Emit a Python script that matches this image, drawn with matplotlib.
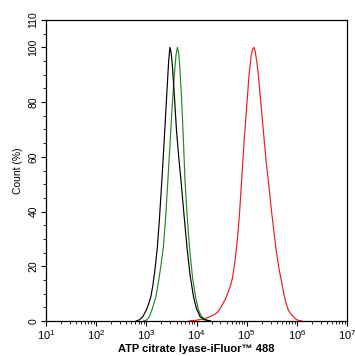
import matplotlib
matplotlib.use('Agg')
import matplotlib.pyplot as plt
from matplotlib.ticker import MultipleLocator, LogLocator, NullFormatter
import numpy as np

plt.rcParams['font.family'] = ['Liberation Sans', 'DejaVu Sans']
plt.rcParams['mathtext.fontset'] = 'custom'
plt.rcParams['mathtext.rm'] = 'Liberation Sans'
plt.rcParams['mathtext.it'] = 'Liberation Sans:italic'

# log10 fluorescence intensity and count (%)
black_log = [2.80, 2.86, 2.93, 3.00, 3.05, 3.09, 3.13, 3.17, 3.22, 3.26, 3.31, 3.35,
             3.39, 3.42, 3.445, 3.47, 3.495, 3.52, 3.56, 3.60, 3.645, 3.69, 3.75, 3.81,
             3.87, 3.94, 4.00, 4.07, 4.15, 4.27]
black_cnt = [0, 0.4, 1.6, 4, 6.5, 8.9, 13, 18.5, 27, 37, 51.5, 64,
             77, 87, 95, 100, 98, 93, 82, 70, 60, 51.5, 39, 27,
             17, 8.9, 4.5, 1.6, 0.5, 0]

green_log = [2.95, 3.01, 3.06, 3.12, 3.19, 3.235, 3.285, 3.34, 3.385, 3.43, 3.47, 3.51,
             3.55, 3.59, 3.62, 3.645, 3.67, 3.70, 3.735, 3.77, 3.815, 3.86, 3.92, 3.98,
             4.04, 4.10, 4.18, 4.28]
green_cnt = [0, 0.4, 1.6, 4.5, 8.9, 13.5, 19.5, 27, 38, 51.5, 64, 77,
             88, 97, 100, 98, 92, 82, 68, 51.5, 38, 27, 16, 8.9,
             4, 1.6, 0.5, 0]

red_log = [3.85, 4.00, 4.15, 4.27, 4.34, 4.40, 4.47, 4.53, 4.58, 4.63, 4.68, 4.72,
           4.76, 4.80, 4.83, 4.86, 4.90, 4.95, 5.00, 5.05, 5.09, 5.12, 5.146, 5.17,
           5.20, 5.23, 5.29, 5.35, 5.39, 5.43, 5.50, 5.58, 5.64, 5.70, 5.735, 5.77,
           5.83, 5.88, 5.93, 5.98, 6.02, 6.10]
red_cnt = [0, 0.3, 0.8, 1.6, 2.2, 2.9, 4.5, 6.5, 8.2, 10.5, 13, 16,
           21, 27, 33, 40, 51.5, 66, 78.3, 90.5, 97, 99.5, 100, 98.5,
           95, 90.5, 78.3, 66, 58, 51.5, 39.4, 27, 19.5, 14, 10.5, 7.5,
           4, 2.5, 1.6, 0.7, 0.3, 0]

xticks = [1e1, 1e2, 1e3, 1e4, 1e5, 1e6, 1e7]
yticks = [0, 20, 40, 60, 80, 100, 110]

fig = plt.figure(figsize=(3.55, 3.56), dpi=100)
ax = fig.add_axes([46 / 355, 35 / 356, 301 / 355, 301 / 356])

ax.plot(10 ** np.array(red_log), red_cnt, color='#ee1c1c', linewidth=0.85)
ax.plot(10 ** np.array(green_log), green_cnt, color='#1e8c1e', linewidth=0.85)
ax.plot(10 ** np.array(black_log), black_cnt, color='black', linewidth=0.85)

ax.set_xscale('log')
ax.set_xlim(10, 1e7)
ax.set_ylim(0, 110)

ax.set_xticks(xticks)
ax.xaxis.set_minor_locator(LogLocator(base=10, subs=np.arange(2, 10), numticks=100))
ax.xaxis.set_minor_formatter(NullFormatter())
ax.set_yticks(yticks)
ax.yaxis.set_minor_locator(MultipleLocator(5))

ax.tick_params(which='major', direction='out', length=3.5, width=0.8, labelsize=7.5, pad=2)
ax.tick_params(axis='x', which='major', labelsize=8)
ax.tick_params(which='minor', direction='out', length=2, width=0.6)
for lbl in ax.get_yticklabels():
    lbl.set_rotation(90)
    lbl.set_va('center')

for s in ax.spines.values():
    s.set_linewidth(0.9)

ax.set_xlabel('ATP citrate lyase-iFluor\u2122 488', fontsize=8, fontweight='bold', labelpad=1)
ax.set_ylabel('Count (%)', fontsize=7.5, labelpad=4)

fig.savefig('out.png', dpi=100)
